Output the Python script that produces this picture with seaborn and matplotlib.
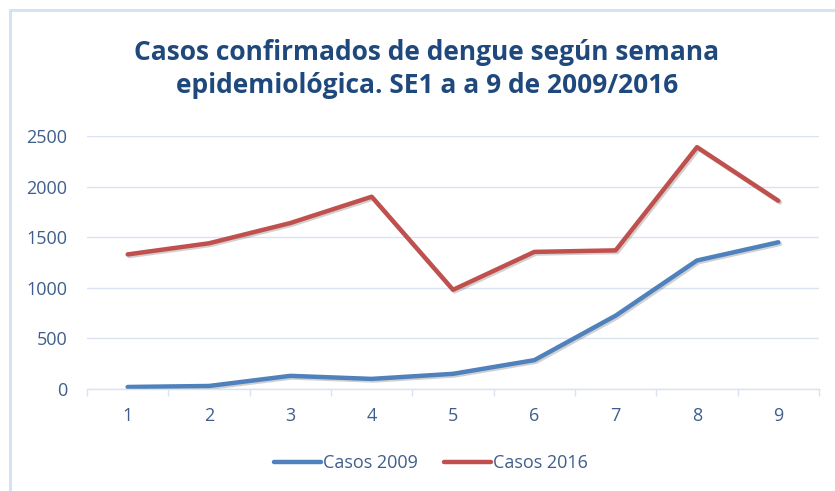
import matplotlib
matplotlib.use("Agg")
import matplotlib.pyplot as plt
import matplotlib.patheffects as pe
from matplotlib.lines import Line2D
import seaborn as sns
import pandas as pd
import numpy as np

semanas = [1, 2, 3, 4, 5, 6, 7, 8, 9]
casos_2009 = [20, 30, 130, 100, 150, 285, 725, 1270, 1450]
casos_2016 = [1330, 1440, 1640, 1900, 980, 1355, 1370, 2390, 1860]
series_names = ["Casos 2009", "Casos 2016"]
title = "Casos confirmados de dengue según semana\nepidemiológica. SE1 a a 9 de 2009/2016"
y_ticks = [0, 500, 1000, 1500, 2000, 2500]

df = pd.DataFrame({
    "Semana": semanas * 2,
    "Casos": casos_2009 + casos_2016,
    "Serie": [series_names[0]] * len(semanas) + [series_names[1]] * len(semanas),
})

sns.set_theme(style="white")
plt.rcParams['font.family'] = ['Open Sans', 'DejaVu Sans']

W, H = 835, 491
fig = plt.figure(figsize=(W / 100, H / 100), dpi=100)
ax = fig.add_axes([87 / W, 1 - 389 / H, (819 - 87) / W, (389 - 136) / H])

colors = {"Casos 2009": "#4F81BD", "Casos 2016": "#C0504D"}
sns.lineplot(data=df, x="Semana", y="Casos", hue="Serie", palette=colors,
             linewidth=3.2, ax=ax, legend=False, sort=False)
for ln in ax.get_lines():
    ln.set_solid_capstyle("round")
    ln.set_solid_joinstyle("round")
    ln.set_path_effects([pe.SimpleLineShadow(offset=(1.2, -1.2), shadow_color="#000000", alpha=0.18),
                         pe.Normal()])

grid_c = "#D9E3F1"
lab_c = "#3F5E8C"
ax.set_xlim(0.5, 9.5)
ax.set_ylim(0, 2500)
ax.set_yticks(y_ticks)
ax.set_yticklabels([str(v) for v in y_ticks])
ax.set_xticks(semanas)
ax.set_xticklabels([str(s) for s in semanas])
ax.set_xticks(np.arange(0.5, 10, 1.0), minor=True)
ax.yaxis.grid(True, color=grid_c, linewidth=1.0)
ax.xaxis.grid(False)
ax.set_axisbelow(True)
for side in ["top", "right", "left"]:
    ax.spines[side].set_visible(False)
ax.spines["bottom"].set_color(grid_c)
ax.spines["bottom"].set_linewidth(1.0)
ax.tick_params(axis="x", which="major", length=0, pad=13, labelsize=13, labelcolor=lab_c)
ax.tick_params(axis="x", which="minor", length=5, width=1.0, color=grid_c, bottom=True)
ax.tick_params(axis="y", length=0, pad=14, labelsize=13, labelcolor=lab_c)
ax.set_xlabel("")
ax.set_ylabel("")

fig.text(427 / W, 1 - 69 / H, title, ha="center", va="center", fontsize=19,
         fontweight="bold", color="#1F497D", linespacing=1.25)

handles = [Line2D([0], [0], color=colors[n], lw=3.2, solid_capstyle="round") for n in series_names]
fig.legend(handles, series_names, loc="center", bbox_to_anchor=(431 / W, 1 - 463 / H),
           ncol=2, frameon=False, fontsize=13, handlelength=2.6, handletextpad=0.15,
           columnspacing=1.4, labelcolor=lab_c)

border = "#D6E2F2"
fig.add_artist(Line2D([10 / W, 10 / W], [0, 1 - 10 / H], color=border, lw=2.2, transform=fig.transFigure))
fig.add_artist(Line2D([10 / W, 1], [1 - 10 / H, 1 - 10 / H], color=border, lw=2.2, transform=fig.transFigure))

fig.savefig("out.png", dpi=100, facecolor="white")
